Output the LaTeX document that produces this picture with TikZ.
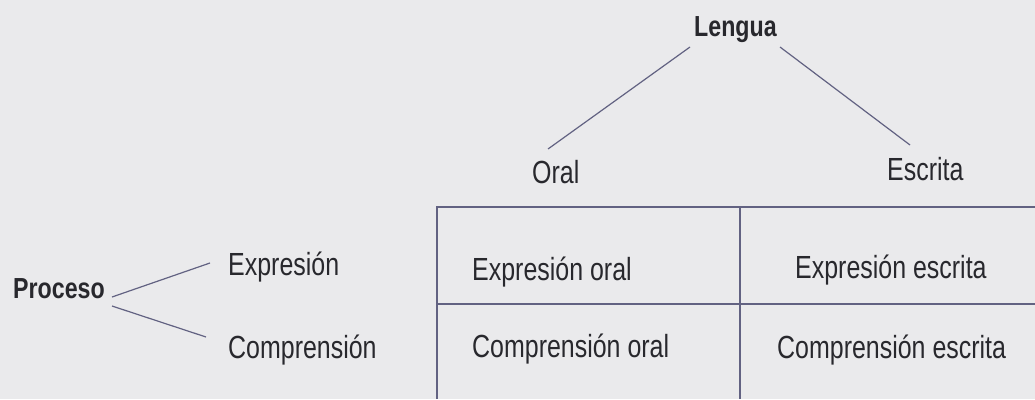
\documentclass[tikz,border=0pt]{standalone}
\usepackage{fontspec}
\setmainfont[FakeStretch=0.78]{Liberation Sans}
\newfontfamily\boldcond[FakeStretch=0.80]{Liberation Sans}
\definecolor{paper}{RGB}{234,234,236}
\definecolor{ink}{RGB}{40,40,45}
\definecolor{linec}{RGB}{98,98,130}
\tikzset{
  lbl/.style={anchor=base west, inner sep=0pt, text=ink, font=\fontsize{32}{38}\selectfont},
  headlbl/.style={anchor=base west, inner sep=0pt, text=ink, font=\boldcond\bfseries\fontsize{29}{35}\selectfont},
  conn/.style={draw=linec, line width=1.2pt},
  grid/.style={draw=linec, line width=1.2pt}
}
\begin{document}
\begin{tikzpicture}[x=1pt, y=-1pt]
\fill[paper] (0,0) rectangle (1035,399);
\useasboundingbox (0,0) rectangle (1035,399);

% tree: Lengua
\node[headlbl] (lengua) at (694,36) {Lengua};
\node[lbl] (oral) at (532,183) {Oral};
\node[lbl] (escrita) at (887,180) {Escrita};
\draw[conn] ([shift={(-4,11)}]lengua.base west) -- ([shift={(16,-34)}]oral.base west);
\draw[conn] ([shift={(86,11)}]lengua.base west) -- ([shift={(23,-35)}]escrita.base west);

% tree: Proceso
\node[headlbl] (proceso) at (13,298) {Proceso};
\node[lbl] (expresion) at (228,275) {Expresión};
\node[lbl] (comprension) at (228,358) {Comprensión};
\draw[conn] ([shift={(99,-1)}]proceso.base west) -- ([shift={(-18,-12)}]expresion.base west);
\draw[conn] ([shift={(99,8)}]proceso.base west) -- ([shift={(-22,-21)}]comprension.base west);

% table grid
\coordinate (tl) at (437,207);
\coordinate (tr) at (1035,207);
\coordinate (ml) at (437,304);
\coordinate (mr) at (1035,304);
\coordinate (bl) at (437,399);
\coordinate (tm) at (740,207);
\coordinate (bm) at (740,399);
\draw[grid] (bl) -- (tl) -- (tr);
\draw[grid] (ml) -- (mr);
\draw[grid] (tm) -- (bm);

% table cells
\node[lbl] (eo) at (472,280) {Expresión oral};
\node[lbl] (co) at (472,357) {Comprensión oral};
\node[lbl] (ee) at (795,278) {Expresión escrita};
\node[lbl] (ce) at (777,358) {Comprensión escrita};
\end{tikzpicture}
\end{document}
